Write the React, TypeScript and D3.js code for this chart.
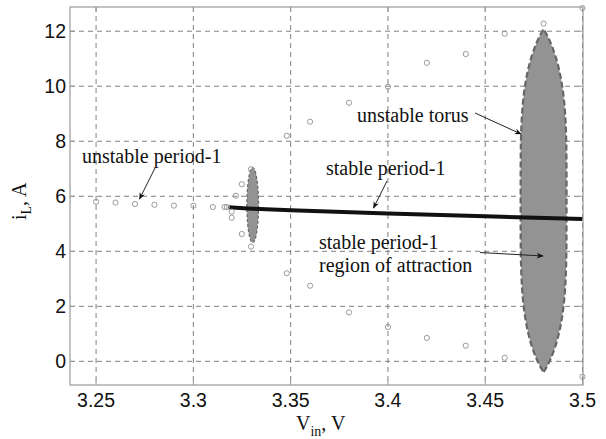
import React from 'react';
import * as d3 from 'd3';

// tick values
const xTicks = [3.25, 3.3, 3.35, 3.4, 3.45, 3.5];
const yTicks = [0, 2, 4, 6, 8, 10, 12];

// unstable period-1 orbit (open circles, left)
const unstableP1X = [3.25, 3.26, 3.27, 3.28, 3.29, 3.3, 3.31, 3.316, 3.3172];
const unstableP1Y = [5.8, 5.77, 5.72, 5.69, 5.66, 5.66, 5.61, 5.61, 5.61];

// unstable torus projection (open circles, upper/lower branches)
const torusX = [3.3197, 3.3197, 3.3218, 3.3249, 3.3249, 3.3296, 3.3296, 3.348, 3.348, 3.36, 3.36, 3.38, 3.38, 3.4, 3.4, 3.42, 3.42, 3.44, 3.44, 3.46, 3.46, 3.48, 3.5, 3.5];
const torusY = [5.44, 5.22, 6.02, 6.44, 4.63, 6.98, 4.17, 8.2, 3.2, 8.71, 2.75, 9.4, 1.78, 9.98, 1.25, 10.85, 0.85, 11.17, 0.57, 11.91, 0.13, 12.28, 12.84, -0.56];

// stable period-1 branch
const stableX = [3.318, 3.33, 3.35, 3.4, 3.45, 3.5];
const stableY = [5.6, 5.55, 5.49, 5.37, 5.27, 5.17];

// regions of attraction: centre and half extents in data units
const regionCx = [3.3305, 3.48];
const regionCy = [5.68, 5.85];
const regionRx = [0.003, 0.0118];
const regionRy = [1.36, 6.23];

const W = 606;
const H = 439;
const left = 70;
const right = 583;
const top = 7;
const bottom = 385;

const x = d3.scaleLinear().domain([3.2366, 3.5]).range([left, right - 0.5]);
const y = d3.scaleLinear().domain([-0.86, 12.88]).range([bottom, top]);

const serif = '"Liberation Serif", "Times New Roman", serif';
const sans = '"Liberation Sans", Arial, sans-serif';

// half width profile of the closed curves
function halfWidth(i: number, t: number) {
  if (i === 0) return Math.sqrt(Math.max(0, 1 - t * t));
  return Math.pow(Math.max(0, 1 - t ** 4), t > 0 ? 0.95 : 0.9);
}

function regionPath(i: number) {
  const ts = d3.range(0, 201).map(k => -1 + k / 100);
  const rightSide = ts.map(t => [regionCx[i] + regionRx[i] * halfWidth(i, t), regionCy[i] + regionRy[i] * t]);
  const leftSide = ts.slice().reverse().map(t => [regionCx[i] - regionRx[i] * halfWidth(i, t), regionCy[i] + regionRy[i] * t]);
  const line = d3.line<number[]>().x(d => x(d[0])).y(d => y(d[1]));
  return line([...rightSide, ...leftSide]) + 'Z';
}

const stableLine = d3.line<number>().x((d, i) => x(stableX[i])).y(d => y(d));

const Arrow = ({ x1, y1, x2, y2 }: { x1: number; y1: number; x2: number; y2: number }) => (
  <line x1={x1} y1={y1} x2={x2} y2={y2} stroke="#222" strokeWidth={1} markerEnd="url(#ah)" />
);

export default function App() {
  return (
    <svg width={W} height={H} style={{ position: 'absolute', left: 0, top: 0, background: '#fff' }}>
      <defs>
        <marker id="ah" viewBox="0 0 10 10" refX="9" refY="5" markerWidth="9" markerHeight="7" orient="auto" markerUnits="userSpaceOnUse">
          <path d="M0,1 L10,5 L0,9 L3,5 Z" fill="#111" />
        </marker>
      </defs>
      <rect x={0} y={0} width={W} height={H} fill="#fff" />

      {/* grid */}
      {xTicks.map(t => (
        <line key={'gx' + t} x1={x(t)} x2={x(t)} y1={top} y2={bottom} stroke="#808080" strokeDasharray="5,4" />
      ))}
      {yTicks.map(t => (
        <line key={'gy' + t} x1={left} x2={right} y1={y(t)} y2={y(t)} stroke="#808080" strokeDasharray="5,4" />
      ))}

      {/* regions of attraction / torus */}
      {regionCx.map((c, i) => (
        <path key={'r' + i} d={regionPath(i)} fill="#939393" stroke="#666" strokeWidth={i === 1 ? 2.2 : 1.2} strokeDasharray={i === 1 ? '6,3' : '3,2'} />
      ))}

      {/* stable period-1 */}
      <path d={stableLine(stableY) || ''} fill="none" stroke="#111" strokeWidth={4} />

      {/* circles */}
      {unstableP1X.map((v, i) => (
        <circle key={'u' + i} cx={x(v)} cy={y(unstableP1Y[i])} r={2.6} fill="none" stroke="#9a9a9a" strokeWidth={1} />
      ))}
      {torusX.map((v, i) => (
        <circle key={'t' + i} cx={x(v)} cy={y(torusY[i])} r={2.6} fill="none" stroke="#9a9a9a" strokeWidth={1} />
      ))}

      {/* box and ticks */}
      <rect x={left} y={top} width={right - left} height={bottom - top} fill="none" stroke="#999" strokeWidth={1.2} />
      {xTicks.map(t => (
        <g key={'tx' + t}>
          <line x1={x(t)} x2={x(t)} y1={bottom} y2={bottom - 5} stroke="#999" />
          <line x1={x(t)} x2={x(t)} y1={top} y2={top + 5} stroke="#999" />
          <text x={x(t)} y={407} textAnchor="middle" fontFamily={sans} fontSize={19.5} fill="#111">{t}</text>
        </g>
      ))}
      {yTicks.map(t => (
        <g key={'ty' + t}>
          <line x1={left} x2={left + 5} y1={y(t)} y2={y(t)} stroke="#999" />
          <line x1={right} x2={right - 5} y1={y(t)} y2={y(t)} stroke="#999" />
          <text x={66} y={y(t) + 7} textAnchor="end" fontFamily={sans} fontSize={19.5} fill="#111">{t}</text>
        </g>
      ))}

      {/* axis labels */}
      <text x={296} y={430} fontFamily={serif} fontSize={20} fill="#111">
        V<tspan fontSize={14} dy={6}>in</tspan><tspan dy={-6}>, V</tspan>
      </text>
      <text transform="translate(26,220) rotate(-90)" fontFamily={serif} fontSize={20} fill="#111">
        i<tspan fontSize={14} dy={5}>L</tspan><tspan dy={-5}>, A</tspan>
      </text>

      {/* annotations */}
      <text x={82} y={163} fontFamily={serif} fontSize={20} fill="#111">unstable period-1</text>
      <Arrow x1={155} y1={168} x2={139.5} y2={199} />

      <text x={326} y={175} fontFamily={serif} fontSize={20} fill="#111">stable period-1</text>
      <Arrow x1={387} y1={181} x2={373.5} y2={208} />

      <text x={357} y={122} fontFamily={serif} fontSize={20} fill="#111">unstable torus</text>
      <Arrow x1={475} y1={113} x2={521} y2={134} />

      <text x={319} y={249} fontFamily={serif} fontSize={20} fill="#111">stable period-1</text>
      <text x={319} y={272} fontFamily={serif} fontSize={20} fill="#111">region of attraction</text>
      <Arrow x1={480} y1={252.5} x2={543} y2={256} />
    </svg>
  );
}
